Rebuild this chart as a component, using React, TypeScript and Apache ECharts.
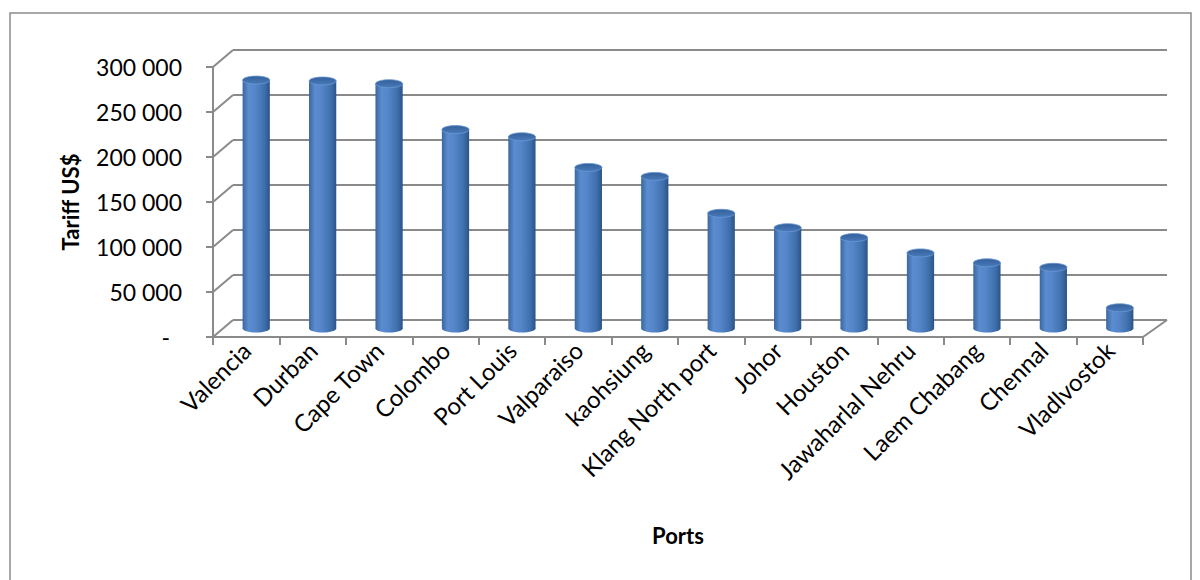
import React, { useEffect, useRef } from "react";
import * as echarts from "echarts";

// Port tariffs (US$), one cylinder per port
const categories = [
  "Valencia",
  "Durban",
  "Cape Town",
  "Colombo",
  "Port Louis",
  "Valparaiso",
  "kaohsiung",
  "Klang North port",
  "Johor",
  "Houston",
  "Jawaharlal Nehru",
  "Laem Chabang",
  "Chennal",
  "Vladlvostok",
];
const tariffs = [
  276000, 275000, 272000, 221000, 213000, 179000, 169000, 128000, 112000,
  101000, 84000, 73000, 68000, 23000,
];
const yTicks = [0, 50000, 100000, 150000, 200000, 250000, 300000];

const Y_MAX = 300000;
const Y_STEP = 50000;

// 3D look: offset of the back wall relative to the front axes
const DEPTH_X = 20;
const DEPTH_Y = -17;
const FRONT = { left: 213, top: 67, width: 930, height: 270 };
const GRID_COLOR = "#8a8a8a";
const FONT = "Lato, 'Open Sans', sans-serif";

const fmtTick = (v: number) => {
  if (v === 0) return "{dash|-}";
  return `${Math.round(v / 1000)} 000`;
};

export default function App() {
  const ref = useRef<HTMLDivElement>(null);

  useEffect(() => {
    if (!ref.current) return;
    const chart = echarts.init(ref.current, undefined, { renderer: "svg" });

    const bodyGrad = new echarts.graphic.LinearGradient(0, 0, 1, 0, [
      { offset: 0, color: "#3a679f" },
      { offset: 0.22, color: "#5a8cd0" },
      { offset: 0.45, color: "#5586c9" },
      { offset: 0.8, color: "#3f70ad" },
      { offset: 1, color: "#2c5386" },
    ]);
    const topGrad = new echarts.graphic.LinearGradient(0, 0, 0, 1, [
      { offset: 0, color: "#33609a" },
      { offset: 1, color: "#4a7abb" },
    ]);

    const option: any = {
      animation: false,
      backgroundColor: "#ffffff",
      textStyle: { fontFamily: FONT },
      grid: [
        {
          left: FRONT.left,
          top: FRONT.top,
          width: FRONT.width,
          height: FRONT.height,
          outerBoundsMode: "none",
        },
        {
          left: FRONT.left + DEPTH_X,
          top: FRONT.top + DEPTH_Y,
          width: FRONT.width + 4,
          height: FRONT.height,
          outerBoundsMode: "none",
        },
      ],
      xAxis: [
        {
          type: "category",
          gridIndex: 0,
          data: categories,
          boundaryGap: true,
          axisLine: { show: true, lineStyle: { color: GRID_COLOR, width: 2 } },
          axisTick: {
            show: true,
            interval: 0,
            length: 8,
            lineStyle: { color: GRID_COLOR, width: 2 },
          },
          axisLabel: {
            interval: 0,
            rotate: 45,
            margin: 9,
            color: "#000",
            fontSize: 24,
            fontFamily: FONT,
          },
          splitLine: { show: false },
          z: 3,
        },
        {
          type: "category",
          gridIndex: 1,
          data: categories,
          show: false,
        },
      ],
      yAxis: [
        {
          type: "value",
          gridIndex: 0,
          min: 0,
          max: Y_MAX,
          interval: Y_STEP,
          axisLine: { show: true, lineStyle: { color: GRID_COLOR, width: 2 } },
          axisTick: { show: true, length: 7, lineStyle: { color: GRID_COLOR, width: 2 } },
          splitLine: { show: false },
          axisLabel: {
            margin: 31,
            color: "#000",
            fontSize: 23,
            fontFamily: FONT,
            formatter: fmtTick,
            rich: { dash: { fontSize: 23, fontFamily: FONT, color: "#000", padding: [0, 12, 0, 0] } },
          },
          z: 3,
        },
        {
          type: "value",
          gridIndex: 1,
          min: 0,
          max: Y_MAX,
          interval: Y_STEP,
          axisLine: { show: false },
          axisTick: { show: false },
          axisLabel: { show: false },
          splitLine: { show: true, lineStyle: { color: GRID_COLOR, width: 2 } },
        },
      ],
      graphic: [
        {
          type: "rect",
          shape: { x: 10, y: 13, width: 1181, height: 620 },
          style: { fill: "none", stroke: "#8c8c8c", lineWidth: 1.5 },
          silent: true,
          z: -10,
        },
        {
          type: "text",
          x: 70,
          y: 202,
          rotation: Math.PI / 2,
          style: {
            text: "Tariff US$",
            fontSize: 22,
            fontWeight: "bold",
            fontFamily: FONT,
            fill: "#000",
            align: "center",
            verticalAlign: "middle",
          },
        },
        {
          type: "text",
          x: 678,
          y: 535,
          style: {
            text: "Ports",
            fontSize: 22,
            fontWeight: "bold",
            fontFamily: FONT,
            fill: "#000",
            align: "center",
            verticalAlign: "middle",
          },
        },
      ],
      series: [
        {
          // side wall: diagonal lines joining front ticks to back gridlines
          type: "custom",
          xAxisIndex: 0,
          yAxisIndex: 0,
          data: yTicks.map((v) => [0, v]),
          silent: true,
          z: 1,
          renderItem: (params: any, api: any) => {
            const x = params.coordSys.x;
            const y = api.coord([0, api.value(1)])[1];
            return {
              type: "line",
              shape: { x1: x, y1: y, x2: x + DEPTH_X, y2: y + DEPTH_Y },
              style: { stroke: GRID_COLOR, lineWidth: 2 },
            };
          },
        },
        {
          // right edge of the floor
          type: "custom",
          xAxisIndex: 0,
          yAxisIndex: 0,
          data: [[0, 0]],
          silent: true,
          z: 1,
          renderItem: (params: any, api: any) => {
            const x = params.coordSys.x + params.coordSys.width;
            const y = api.coord([0, 0])[1];
            return {
              type: "line",
              shape: { x1: x, y1: y, x2: x + DEPTH_X + 4, y2: y + DEPTH_Y },
              style: { stroke: GRID_COLOR, lineWidth: 2 },
            };
          },
        },
        {
          // cylinders
          type: "custom",
          name: "Tariff US$",
          xAxisIndex: 0,
          yAxisIndex: 0,
          data: tariffs.map((v, i) => [i, v]),
          z: 2,
          renderItem: (params: any, api: any) => {
            const i = api.value(0);
            const v = api.value(1);
            const base = api.coord([i, 0]);
            const top = api.coord([i, v]);
            const band = api.size([1, 0])[0];
            const w = band * 0.41;
            const ry = 4;
            const cx = base[0] + DEPTH_X / 2;
            const by = base[1] + DEPTH_Y / 2;
            const ty = top[1] + DEPTH_Y / 2;
            return {
              type: "group",
              children: [
                {
                  type: "ellipse",
                  shape: { cx, cy: by, rx: w / 2, ry },
                  style: { fill: bodyGrad },
                },
                {
                  type: "rect",
                  shape: { x: cx - w / 2, y: ty, width: w, height: by - ty },
                  style: { fill: bodyGrad },
                },
                {
                  type: "ellipse",
                  shape: { cx, cy: ty, rx: w / 2, ry },
                  style: { fill: topGrad, stroke: "#6a98d4", lineWidth: 0.8 },
                },
              ],
            };
          },
        },
      ],
    };

    chart.setOption(option);
    return () => chart.dispose();
  }, []);

  return (
    <div
      ref={ref}
      style={{ position: "fixed", left: 0, top: 0, width: 1200, height: 580, background: "#fff" }}
    />
  );
}
